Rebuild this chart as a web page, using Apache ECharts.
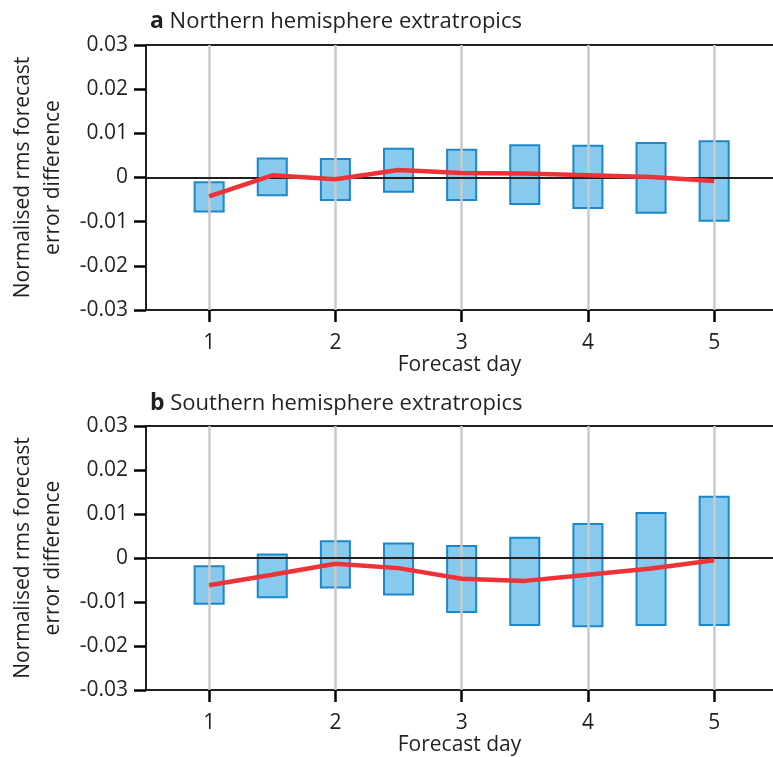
<!DOCTYPE html>
<html><head><meta charset="utf-8">
<script src="https://cdn.jsdelivr.net/npm/echarts@6/dist/echarts.min.js"></script>
<style>html,body{margin:0;padding:0;background:#fff}#c{width:773px;height:757px}</style>
</head><body><div id="c"></div>
<script>
var days = [1, 1.5, 2, 2.5, 3, 3.5, 4, 4.5, 5];
var dayTicks = [1, 2, 3, 4, 5];
var yTicks = ['-0.03', '-0.02', '-0.01', '0', '0.01', '0.02', '0.03'];
var nhLow  = [-0.0077, -0.0040, -0.0051, -0.0032, -0.0051, -0.0060, -0.0069, -0.0080, -0.0098];
var nhHigh = [-0.0011, 0.0043, 0.0042, 0.0065, 0.0063, 0.0073, 0.0072, 0.0078, 0.0082];
var nhMean = [-0.0043, 0.0005, -0.0004, 0.0017, 0.0010, 0.0009, 0.0005, 0.0001, -0.0008];
var shLow  = [-0.0104, -0.0089, -0.0067, -0.0083, -0.0123, -0.0152, -0.0155, -0.0152, -0.0152];
var shHigh = [-0.0019, 0.0008, 0.0038, 0.0033, 0.0027, 0.0046, 0.0077, 0.0102, 0.0139];
var shMean = [-0.0062, -0.0038, -0.0013, -0.0023, -0.0047, -0.0052, -0.0038, -0.0024, -0.0005];

var FONT = 'Open Sans';
var INK = '#231f20';
var TICK = '#000000';
var HALF = 0.115;

function boxes(lo, hi) { return days.map(function (d, i) { return [d, lo[i], hi[i]]; }); }
function pts(v) { return days.map(function (d, i) { return [d, v[i]]; }); }

function renderBox(params, api) {
  var x = api.value(0), lo = api.value(1), hi = api.value(2);
  var p1 = api.coord([x - HALF, hi]);
  var p2 = api.coord([x + HALF, lo]);
  return {
    type: 'rect',
    shape: { x: p1[0], y: p1[1], width: p2[0] - p1[0], height: p2[1] - p1[1] },
    style: { fill: '#87CAEE', stroke: '#1A88C9', lineWidth: 2 }
  };
}

function xBottom(g) {
  return {
    gridIndex: g, type: 'value', min: 0.5, max: 5.466, position: 'bottom',
    axisLine: { show: true, onZero: false, lineStyle: { color: INK, width: 2 } },
    axisTick: { show: true, inside: false, customValues: dayTicks, length: 12, lineStyle: { color: TICK, width: 2.5 } },
    axisLabel: { show: true, customValues: dayTicks, color: INK, fontSize: 21, fontFamily: FONT, margin: 23,
      formatter: function (v) { return String(v); } },
    splitLine: { show: false },
    name: 'Forecast day', nameLocation: 'middle', nameGap: 44,
    nameTextStyle: { color: INK, fontSize: 21, fontFamily: FONT }
  };
}
function xTop(g) {
  return {
    gridIndex: g, type: 'value', min: 0.5, max: 5.466, position: 'top',
    axisLine: { show: true, onZero: false, lineStyle: { color: INK, width: 2 } },
    axisTick: { show: false }, axisLabel: { show: false }, splitLine: { show: false }
  };
}
function yAx(g) {
  return {
    gridIndex: g, type: 'value', min: -0.03, max: 0.03, interval: 0.01,
    axisLine: { show: true, onZero: false, lineStyle: { color: INK, width: 2 } },
    axisTick: { show: true, inside: false, length: 12, lineStyle: { color: TICK, width: 2.5 } },
    axisLabel: { color: INK, fontSize: 21, fontFamily: FONT, margin: 18,
      formatter: function (v) { var i = Math.round(v * 100) + 3; return yTicks[i]; } },
    splitLine: { show: false },
    name: 'Normalised rms forecast\nerror difference', nameLocation: 'middle', nameRotate: 90, nameGap: 78,
    nameTextStyle: { color: INK, fontSize: 21, fontFamily: FONT, lineHeight: 30 }
  };
}
function refSeries(x, y) {
  return {
    type: 'line', xAxisIndex: x, yAxisIndex: y, data: [], z: 1, silent: true,
    markLine: {
      silent: true, symbol: 'none', label: { show: false }, animation: false,
      data: dayTicks.map(function (d) { return { xAxis: d, lineStyle: { color: '#cacaca', width: 2.5, type: 'solid' } }; })
        .concat([{ yAxis: 0, lineStyle: { color: INK, width: 2, type: 'solid' } }])
    }
  };
}
function boxSeries(x, y, lo, hi) {
  return { type: 'custom', xAxisIndex: x, yAxisIndex: y, z: 3, renderItem: renderBox,
    encode: { x: 0, y: [1, 2] }, data: boxes(lo, hi), silent: true };
}
function meanSeries(x, y, v) {
  return { type: 'line', xAxisIndex: x, yAxisIndex: y, z: 5, data: pts(v), symbol: 'none',
    lineStyle: { color: '#EE3338', width: 4.5 }, silent: true };
}

var chart = echarts.init(document.getElementById('c'));
chart.setOption({
  animation: false,
  backgroundColor: '#fff',
  title: [
    { text: '{b|a} Northern hemisphere extratropics', left: 145, top: 5,
      textStyle: { color: INK, fontSize: 22, fontFamily: FONT, fontWeight: 'normal',
        rich: { b: { fontWeight: 'bold', fontSize: 23, fontFamily: FONT, color: INK } } } },
    { text: '{b|b} Southern hemisphere extratropics', left: 145, top: 387,
      textStyle: { color: INK, fontSize: 22, fontFamily: FONT, fontWeight: 'normal',
        rich: { b: { fontWeight: 'bold', fontSize: 23, fontFamily: FONT, color: INK } } } }
  ],
  grid: [
    { left: 146, right: 0, top: 45, height: 265 },
    { left: 146, right: 0, top: 426, height: 264 }
  ],
  xAxis: [xBottom(0), xTop(0), xBottom(1), xTop(1)],
  yAxis: [yAx(0), yAx(1)],
  series: [
    refSeries(0, 0), boxSeries(0, 0, nhLow, nhHigh), meanSeries(0, 0, nhMean),
    refSeries(2, 1), boxSeries(2, 1, shLow, shHigh), meanSeries(2, 1, shMean)
  ]
});
</script></body></html>
